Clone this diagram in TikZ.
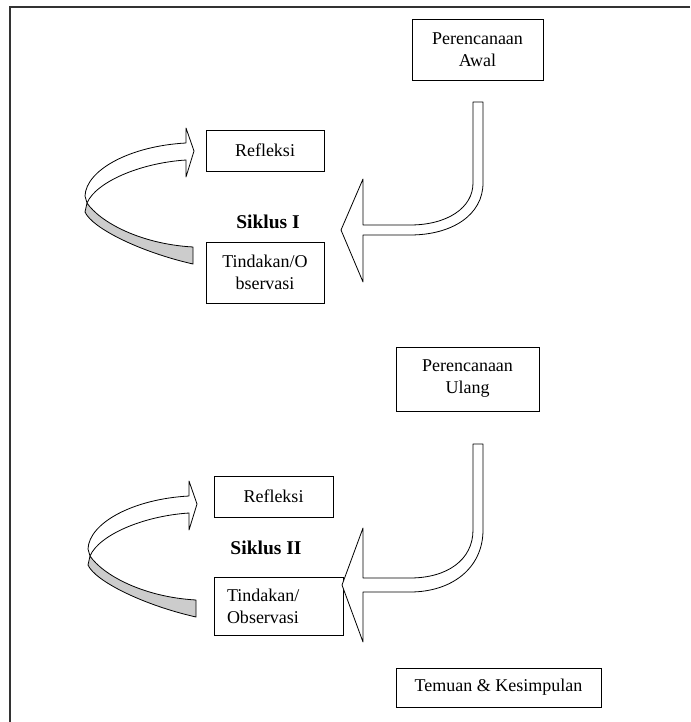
\documentclass[tikz,border=0pt]{standalone}
\usepackage{fontspec}
\setmainfont{Liberation Serif}
\usetikzlibrary{positioning}

\begin{document}
\begin{tikzpicture}[x = 1pt, y = -1pt, on grid, box/.style = {draw, line width = 0.8pt, align = center, inner sep = 0pt, font = \fontsize{18}{22}\selectfont}, band/.style = {draw, line width = 0.8pt, fill = white, line join = round}, siklus/.style = {font = \fontsize{19.5}{22}\selectfont\bfseries}]
	\useasboundingbox (0,0) rectangle (690,722);
	\draw[line width = 1.2pt, black!80] (690,7) -- (10,7) -- (10,722);
	% kotak siklus I
	\node[box, minimum width = 131pt, minimum height = 61pt] (awal) at (477.5,49.5) {Perencanaan\\Awal};
	\node[box, minimum width = 118pt, minimum height = 41pt] (refl1) at (265,150.5) {Refleksi};
	\node[box, minimum width = 118pt, minimum height = 61pt] (tind1) [below = 122pt of refl1] {Tindakan/O\\bservasi};
	\node[siklus] (sik1) [below = 71.5pt of refl1, xshift = 3pt] {Siklus I};
	% kotak siklus II
	\node[box, minimum width = 143pt, minimum height = 64pt] (ulang) at (467.5,379) {Perencanaan\\Ulang};
	\node[box, minimum width = 119pt, minimum height = 41pt] (refl2) at (273.5,496.5) {Refleksi};
	\node[box, minimum width = 129pt, minimum height = 58pt, text width = 103pt, align = left] (tind2) [below = 109.5pt of refl2, xshift = 5pt] {Tindakan/\\Observasi};
	\node[siklus] (sik2) [below = 51.5pt of refl2, xshift = -7.5pt] {Siklus II};
	\node[box, minimum width = 205pt, minimum height = 39pt] (temuan) at (498.5,687.5) {Temuan \& Kesimpulan};
	% panah bengkok
	\draw[band] (473,102) -- (483,102) -- (483,183) .. controls (483,215) and (452,235) .. (410,235) -- (363,235) -- (363,282) -- (341,230) -- (363,179) -- (363,225) -- (410,225) .. controls (447,225) and (473,208) .. (473,183) -- cycle;
	\draw[band] (473,444) -- (483,444) -- (483,530) .. controls (483,568) and (452,592) .. (410,592) -- (363,592) -- (363,642) -- (342,585) -- (363,528) -- (363,578) -- (410,578) .. controls (447,578) and (473,560) .. (473,530) -- cycle;
	% panah melingkar
	\foreach \sx/\sy in {0/0, 3/353} {
		\begin{scope}[shift = {(\sx,\sy)}]
			\draw[band, fill = black!20] (87,203) .. controls (100,222) and (140,244) .. (193,247) -- (193,264) .. controls (140,252) and (92,228) .. (85,212) -- cycle;
			\draw[band] (186,143) .. controls (130,146) and (86,170) .. (85,196) -- (87,203) .. controls (96,182) and (140,163) .. (186,160) -- (186,177) -- (194,151) -- (186,128) -- cycle;
		\end{scope}
	}
\end{tikzpicture}
\end{document}
